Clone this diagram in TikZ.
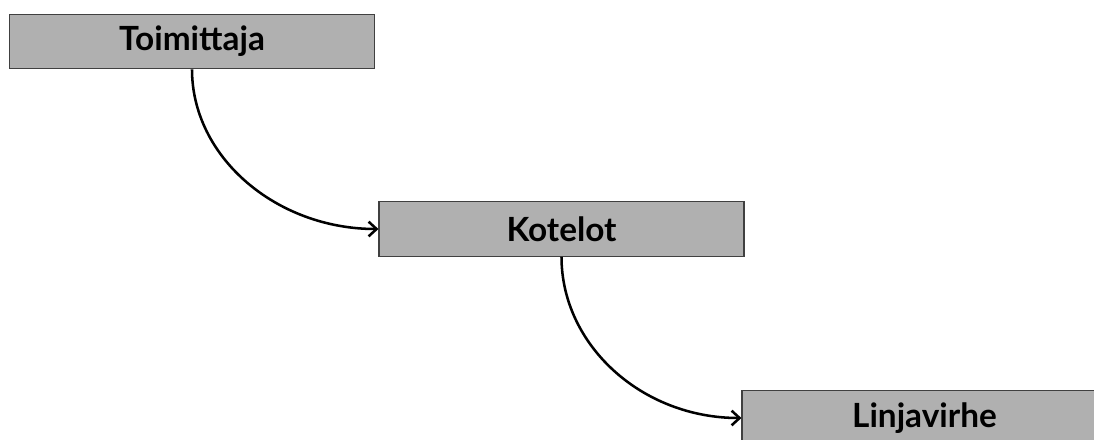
\documentclass[tikz,border=0pt]{standalone}
\usepackage{fontspec}
\setmainfont{Lato}
\usetikzlibrary{arrows.meta}
\tikzset{
  stage/.style={draw=black!75, line width=0.8pt, fill=black!31,
    minimum width=273.75pt, minimum height=41pt, inner sep=0pt,
    font=\fontsize{25}{29}\selectfont\bfseries},
  link/.style={line width=1.9pt, -{Straight Barb[length=6pt,width=11pt,line width=1.9pt]}}
}
\begin{document}
\begin{tikzpicture}[x=0.75pt,y=-0.75pt]
  \useasboundingbox (0,0) rectangle (1094,439);
  \node[stage] (toim) at (192,41.5) {Toimittaja};
  \node[stage] (kot) at (561.5,229) {Kotelot};
  \node[stage] (lin) at (924.5,418) {Linjavirhe};
  \draw[link] (toim.south) .. controls +(0,88) and +(-102,0) .. (kot.west);
  \draw[link] (kot.south) .. controls +(0,88) and +(-100,0) .. (lin.west);
\end{tikzpicture}
\end{document}
